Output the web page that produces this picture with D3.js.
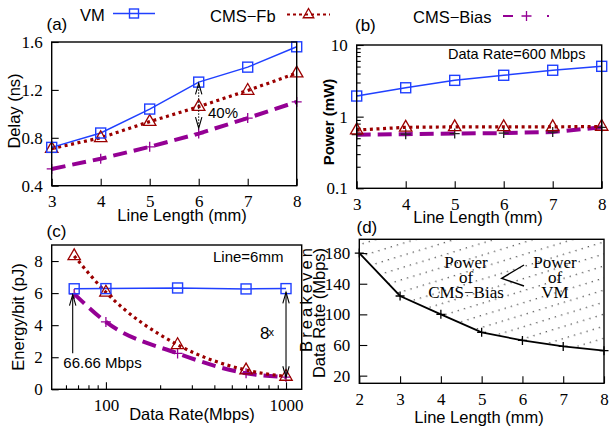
<!DOCTYPE html>
<html>
<head>
<meta charset="utf-8">
<script src="https://cdn.jsdelivr.net/npm/d3@7"></script>
<style>
  body { margin: 0; background: #fff; }
  svg { display: block; }
  .tick text { font-family: 'Liberation Serif', 'Times New Roman', serif; }
</style>
</head>
<body>
<svg id="fig" width="610" height="430"></svg>
<script>
// ---- data ----
const lineLength = [3, 4, 5, 6, 7, 8];

// (a) delay in ns
const delayVM   = [0.72, 0.84, 1.04, 1.265, 1.39, 1.56];
const delayFb   = [0.71, 0.80, 0.935, 1.06, 1.195, 1.34];
const delayBias = [0.54, 0.625, 0.725, 0.835, 0.965, 1.10];

// (b) power in mW at 600 Mbps
const powerVM   = [1.94, 2.53, 3.21, 3.78, 4.44, 5.04];
const powerFb   = [0.65, 0.71, 0.72, 0.72, 0.72, 0.73];
const powerBias = [0.56, 0.57, 0.58, 0.59, 0.61, 0.71];

// (c) energy per bit in pJ for a 6 mm line
const dataRate   = [66.66, 100, 250, 600, 1000];
const energyVM   = [6.27, 6.28, 6.32, 6.26, 6.28];
const energyFb   = [8.32, 6.05, 2.78, 1.2, 0.8];
const energyBias = [5.95, 4.2, 2.24, 1.0, 0.76];

// (d) breakeven data rate in Mbps
const breakLength = [2, 3, 4, 5, 6, 7, 8];
const breakRate   = [180, 124, 100, 76.5, 66, 58.2, 52.6];

// tick values
const ticksA_x = [3, 4, 5, 6, 7, 8];
const ticksA_y = [0.4, 0.8, 1.2, 1.6];
const ticksB_y = [0.1, 1, 10];
const ticksC_x = [100, 1000];
const ticksC_y = [0, 2, 4, 6, 8];
const ticksD_x = [2, 3, 4, 5, 6, 7, 8];
const ticksD_y = [20, 60, 100, 140, 180];

const seriesNames = ["VM", "CMS\u2212Fb", "CMS\u2212Bias"];

// ---- styling ----
const SANS  = "'Liberation Sans', Arial, Helvetica, sans-serif";
const SERIF = "'Liberation Serif', 'Times New Roman', serif";
const C_VM = "#2040ff", C_FB = "#9b0000", C_BIAS = "#940094";

const svg = d3.select("#fig");
svg.append("rect").attr("width", 610).attr("height", 430).attr("fill", "#fff");
const defs = svg.append("defs");

// panel boxes
const A = { l: 51.7,  r: 296.7, t: 42,    b: 185.7 };
const B = { l: 356.7, r: 601.7, t: 45,    b: 188.3 };
const C = { l: 51.7,  r: 301.7, t: 245,   b: 389.3 };
const D = { l: 359.3, r: 604,   t: 239.3, b: 383.3 };

const xA = d3.scaleLinear([3, 8], [A.l, A.r]);
const yA = d3.scaleLinear([0.4, 1.6], [A.b, A.t]);
const xB = d3.scaleLinear([3, 8], [B.l, B.r]);
const yB = d3.scaleLog([0.1, 10], [B.b, B.t]);
const xC = d3.scaleLog([50, 1222], [C.l, C.r]);
const yC = d3.scaleLinear([0, 9], [C.b, C.t]);
const xD = d3.scaleLinear([2, 8], [D.l, D.r]);
const yD = d3.scaleLinear([10, 198], [D.b, D.t]);

// ---- helpers ----
function styleAxis(g) {
  g.attr("font-family", SERIF).attr("font-size", 17);
  g.select(".domain").remove();
  g.selectAll(".tick line").attr("stroke", "#000").attr("stroke-width", 1.1);
  g.selectAll(".tick text").attr("font-family", SERIF).style("font-family", SERIF)
    .attr("font-size", 17).attr("fill", "#000");
  return g;
}
function bottomAxis(scale, box, values, fmt, size) {
  const g = svg.append("g").attr("transform", `translate(0,${box.b})`)
    .call(d3.axisBottom(scale).tickValues(values).tickFormat(fmt)
      .tickSizeInner(-(size || 7)).tickSizeOuter(0).tickPadding(9.5));
  return styleAxis(g);
}
function leftAxis(scale, box, values, fmt, size) {
  const g = svg.append("g").attr("transform", `translate(${box.l},0)`)
    .call(d3.axisLeft(scale).tickValues(values).tickFormat(fmt)
      .tickSizeInner(-(size || 7)).tickSizeOuter(0).tickPadding(9));
  return styleAxis(g);
}
function frame(box) {
  svg.append("rect").attr("x", box.l).attr("y", box.t)
    .attr("width", box.r - box.l).attr("height", box.b - box.t)
    .attr("fill", "none").attr("stroke", "#000").attr("stroke-width", 1.4);
}
function clipFor(id, box) {
  defs.append("clipPath").attr("id", id).append("rect")
    .attr("x", box.l).attr("y", box.t).attr("width", box.r - box.l).attr("height", box.b - box.t);
  return `url(#${id})`;
}
function series(xs, ys, x, y, color, width, dash, curve) {
  const line = d3.line().x((d, i) => x(xs[i])).y(d => y(d)).curve(curve || d3.curveLinear);
  const p = svg.append("path").datum(ys).attr("d", line)
    .attr("fill", "none").attr("stroke", color).attr("stroke-width", width);
  if (dash) p.attr("stroke-dasharray", dash);
  return p;
}
function square(px, py, color, s) {
  s = s || 10;
  svg.append("rect").attr("x", px - s / 2).attr("y", py - s / 2).attr("width", s).attr("height", s)
    .attr("fill", "none").attr("stroke", color).attr("stroke-width", 1.4);
}
function triangle(px, py, color, s) {
  s = s || 1;
  const pts = [[px, py - 7 * s], [px - 6.2 * s, py + 3.8 * s], [px + 6.2 * s, py + 3.8 * s]];
  svg.append("path").attr("d", "M" + pts.map(p => p.join(",")).join("L") + "Z")
    .attr("fill", "none").attr("stroke", color).attr("stroke-width", 1.3);
}
function plus(px, py, color, s) {
  s = s || 5;
  svg.append("path").attr("d", `M${px - s},${py}H${px + s}M${px},${py - s}V${py + s}`)
    .attr("stroke", color).attr("stroke-width", 1.3).attr("fill", "none");
}
function marks(xs, ys, x, y, fn, color, s) {
  ys.forEach((v, i) => fn(x(xs[i]), y(v), color, s));
}
function text(str, x, y, opts) {
  opts = opts || {};
  const t = svg.append("text").attr("x", x).attr("y", y).text(str)
    .attr("font-family", opts.family || SANS).attr("font-size", opts.size || 16.5)
    .attr("fill", "#000");
  if (opts.anchor) t.attr("text-anchor", opts.anchor);
  if (opts.weight) t.attr("font-weight", opts.weight);
  return t;
}
function vtext(str, x, y, opts) {
  opts = opts || {};
  const t = svg.append("text").attr("transform", `translate(${x},${y}) rotate(-90)`)
    .attr("text-anchor", "middle").text(str)
    .attr("font-family", opts.family || SANS).attr("font-size", opts.size || 16.5).attr("fill", "#000");
  if (opts.weight) t.attr("font-weight", opts.weight);
  if (opts.length) t.attr("textLength", opts.length).attr("lengthAdjust", "spacing");
  return t;
}
function arrowHead(px, py, dir) {
  // dir = -1 tip pointing up, +1 tip pointing down
  svg.append("path")
    .attr("d", `M${px - 3.2},${py - dir * 11}L${px},${py}L${px + 3.2},${py - dir * 11}`)
    .attr("fill", "none").attr("stroke", "#000").attr("stroke-width", 1.1);
}

// ---- legend ----
text(seriesNames[0], 80, 21);
svg.append("line").attr("x1", 113).attr("x2", 155).attr("y1", 13.5).attr("y2", 13.5)
  .attr("stroke", C_VM).attr("stroke-width", 1.3);
square(134, 13.5, C_VM, 9);

text(seriesNames[1], 210, 22);
svg.append("line").attr("x1", 287).attr("x2", 330).attr("y1", 14.5).attr("y2", 14.5)
  .attr("stroke", C_FB).attr("stroke-width", 2).attr("stroke-dasharray", "3,3");
triangle(308.5, 14.5, C_FB, 0.85);

text(seriesNames[2], 413, 23);
svg.append("line").attr("x1", 503).attr("x2", 549).attr("y1", 16).attr("y2", 16)
  .attr("stroke", C_BIAS).attr("stroke-width", 2.2).attr("stroke-dasharray", "10,34,2");
plus(526.5, 16, C_BIAS, 5);

// ---- (a) delay ----
bottomAxis(xA, A, ticksA_x, d3.format("d"));
leftAxis(yA, A, ticksA_y, d3.format(".1f"));
series(lineLength, delayBias, xA, yA, C_BIAS, 4, "14,7");
series(lineLength, delayFb, xA, yA, C_FB, 3.2, "3,3.6");
series(lineLength, delayVM, xA, yA, C_VM, 1.5);
marks(lineLength, delayBias, xA, yA, plus, C_BIAS);
marks(lineLength, delayFb, xA, yA, triangle, C_FB);
marks(lineLength, delayVM, xA, yA, square, C_VM);
// delay reduction marker at 6 mm
svg.append("line").attr("x1", xA(6)).attr("x2", xA(6)).attr("y1", yA(1.255)).attr("y2", yA(0.88))
  .attr("stroke", "#000").attr("stroke-width", 1).attr("stroke-dasharray", "1.5,1.5");
arrowHead(xA(6), yA(1.255), -1);
arrowHead(xA(6), yA(0.88), 1);
text("40%", 208, 118, { size: 15 });
frame(A);
text("(a)", 46.5, 30, { size: 17 });
text("Line Length (mm)", 182, 221, { anchor: "middle" });
vtext("Delay (ns)", 19.5, 111);

// ---- (b) power ----
bottomAxis(xB, B, ticksA_x, d3.format("d"));
const minorB = [];
[0.1, 1].forEach(dec => { for (let k = 2; k <= 9; k++) minorB.push(dec * k); });
leftAxis(yB, B, minorB, () => "", 4);
leftAxis(yB, B, ticksB_y, d => (d < 1 ? "0.1" : String(d)));
series(lineLength, powerBias, xB, yB, C_BIAS, 4, "14,7");
series(lineLength, powerFb, xB, yB, C_FB, 3.2, "3,3.6");
series(lineLength, powerVM, xB, yB, C_VM, 1.5);
marks(lineLength, powerBias, xB, yB, plus, "#222");
marks(lineLength, powerFb, xB, yB, triangle, C_FB);
marks(lineLength, powerVM, xB, yB, square, C_VM);
text("Data Rate=600 Mbps", 448, 58.5, { size: 14.5 });
frame(B);
text("(b)", 355, 31, { size: 17 });
text("Line Length (mm)", 478, 223, { anchor: "middle" });
vtext("Power (mW)", 333.5, 122, { size: 15, weight: "bold" });

// ---- (c) energy per bit ----
const minorC = [60, 70, 80, 90, 200, 300, 400, 500, 600, 700, 800, 900];
bottomAxis(xC, C, minorC, () => "", 4);
bottomAxis(xC, C, ticksC_x, d3.format("d"));
leftAxis(yC, C, ticksC_y, d3.format("d"));
series(dataRate, energyBias, xC, yC, C_BIAS, 4, "14,7", d3.curveMonotoneX);
series(dataRate, energyFb, xC, yC, C_FB, 3.2, "3,3.6", d3.curveMonotoneX);
series(dataRate, energyVM, xC, yC, C_VM, 1.5);
marks(dataRate, energyBias, xC, yC, plus, C_BIAS);
marks(dataRate, energyFb, xC, yC, triangle, C_FB);
marks(dataRate, energyVM, xC, yC, square, C_VM);
// lowest data rate marker
const x0 = xC(dataRate[0]) - 1.5;
svg.append("line").attr("x1", x0).attr("x2", x0).attr("y1", yC(2.25)).attr("y2", yC(5.9))
  .attr("stroke", "#000").attr("stroke-width", 1.1);
arrowHead(x0, yC(5.9), -1);
text("66.66 Mbps", 63.3, 368, { size: 15 });
// energy ratio at 1000 Mbps
const x1 = xC(1000);
svg.append("line").attr("x1", x1).attr("x2", x1).attr("y1", yC(6.05)).attr("y2", yC(0.75))
  .attr("stroke", "#000").attr("stroke-width", 1.1);
arrowHead(x1, yC(6.05), -1);
arrowHead(x1, yC(0.75), 1);
text("8", 260, 339, { size: 17 });
text("x", 268.5, 336, { size: 11 });
text("Line=6mm", 213, 261.5, { size: 15 });
frame(C);
text("(c)", 46.5, 237, { size: 17 });
text("Data Rate(Mbps)", 192, 420, { anchor: "middle" });
vtext("Energy/bit (pJ)", 24, 317);

// ---- (d) breakeven data rate ----
const pat = defs.append("pattern").attr("id", "dotHatch").attr("patternUnits", "userSpaceOnUse")
  .attr("width", 6.5).attr("height", 11.5).attr("patternTransform", "rotate(-17)");
pat.append("circle").attr("cx", 3).attr("cy", 5.5).attr("r", 0.7).attr("fill", "#333");
const area = d3.area().x((d, i) => xD(breakLength[i])).y0(D.t - 5).y1(d => yD(d));
svg.append("path").datum(breakRate).attr("d", area)
  .attr("fill", "url(#dotHatch)").attr("clip-path", clipFor("clipD", D));

bottomAxis(xD, D, ticksD_x, d3.format("d"));
leftAxis(yD, D, ticksD_y, d3.format("d"), 8);
series(breakLength, breakRate, xD, yD, "#000", 1.8);
marks(breakLength, breakRate, xD, yD, plus, "#000", 4.5);

[["Power", 268], ["of", 283], ["CMS\u2212Bias", 298]].forEach(([s, y]) =>
  text(s, 466, y, { family: SERIF, size: 17, anchor: "middle" }));
[["Power", 268], ["of", 283], ["VM", 298]].forEach(([s, y]) =>
  text(s, 555, y, { family: SERIF, size: 17, anchor: "middle" }));
svg.append("path").attr("d", "M524,265L501.7,278.3L524,286")
  .attr("fill", "none").attr("stroke", "#000").attr("stroke-width", 1.4);

frame(D);
text("(d)", 356.5, 233, { size: 17 });
text("Line Length (mm)", 479, 423, { anchor: "middle" });
vtext("Breakeven", 311.5, 300, { length: 104 });
vtext("Data Rate (Mbps)", 325, 313);
</script>
</body>
</html>
